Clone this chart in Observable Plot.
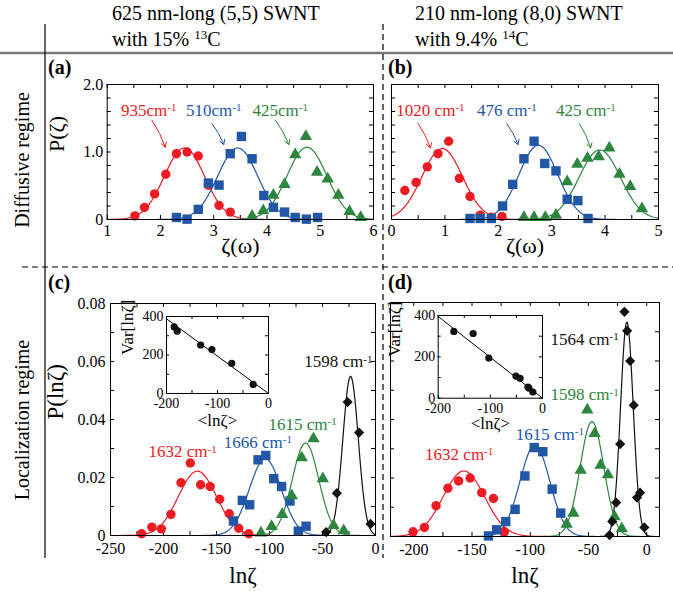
<!DOCTYPE html>
<html><head><meta charset="utf-8">
<script src="https://cdn.jsdelivr.net/npm/d3@7"></script>
<script src="https://cdn.jsdelivr.net/npm/@observablehq/plot@0.6"></script>
<style>
html,body{margin:0;padding:0;background:#fff;}
#fig{position:relative;width:673px;height:592px;overflow:hidden;font-family:'Liberation Serif','Times New Roman',serif;}
#fig svg{position:absolute;overflow:visible;}
#fig svg text{font-family:'Liberation Serif','Times New Roman',serif !important;}
</style></head><body><div id="fig"></div>
<script>
// ---------- Panel (a): diffusive regime, (5,5) SWNT ----------
const aRedX = [1.52,1.70,1.89,2.10,2.30,2.50,2.71,2.90,3.10,3.31];
const aRedY = [0.054,0.18,0.38,0.67,0.975,1.0,0.94,0.51,0.21,0.11];
const aBlueX = [2.30,2.50,2.71,2.90,3.10,3.31,3.52,3.72,3.94,4.12,4.33,4.53,4.74,4.95];
const aBlueY = [0.03,0.005,0.15,0.54,0.51,0.975,1.23,0.90,0.355,0.18,0.11,0.03,0.005,0.03];
const aGreenX = [3.72,3.93,4.12,4.33,4.53,4.73,4.94,5.14,5.34,5.55,5.76];
const aGreenY = [0.05,0.13,0.36,0.52,0.96,1.23,0.70,0.60,0.36,0.12,0.03];
const aFitMu = [2.45,3.45,4.75];
const aFitPeak = [1.06,1.06,1.07];
const aFitSigma = [0.376,0.376,0.373];
const aLabels = ["935cm-1","510cm-1","425cm-1"];
const aLabelX = [1.78,3.0,4.25];
const aLabelY = [1.62,1.62,1.62];
const aArrowX1 = [1.84,2.97,4.16], aArrowY1 = [1.47,1.42,1.47];
const aArrowX2 = [2.09,3.19,4.41], aArrowY2 = [1.07,1.11,1.11];
const aXTicks = [1,2,3,4,5,6];
const aYTicks = [0,1,2];

// ---------- Panel (b): diffusive regime, (8,0) SWNT ----------
const bRedX = [0.25,0.46,0.67,0.87,1.07,1.27,1.47,1.66,1.87,2.07];
const bRedY = [0.43,0.55,0.78,0.975,1.16,0.61,0.34,0.064,0.034,0.044];
const bBlueX = [1.47,1.66,1.87,2.08,2.27,2.48,2.67,2.87,3.08,3.29,3.49,3.68];
const bBlueY = [0.015,0.015,0.015,0.20,0.52,0.90,1.16,0.83,0.72,0.30,0.28,0.015];
const bGreenX = [2.48,2.67,2.88,3.08,3.29,3.48,3.67,3.88,4.08,4.27,4.47,4.69];
const bGreenY = [0.03,0.03,0.03,0.064,0.56,0.82,0.91,0.93,1.06,0.67,0.49,0.16];
const bFitMu = [0.95,2.75,3.9];
const bFitPeak = [1.05,1.10,1.03];
const bFitSigma = [0.38,0.363,0.387];
const bLabels = ["1020 cm-1","476 cm-1","425 cm-1"];
const bLabelX = [0.73,2.16,3.64];
const bLabelY = [1.62,1.62,1.62];
const bArrowX1 = [0.50,2.16,3.52], bArrowY1 = [1.42,1.42,1.42];
const bArrowX2 = [0.73,2.37,3.73], bArrowY2 = [1.06,1.11,1.06];
const bXTicks = [0,1,2,3,4,5];

// ---------- Panel (c): localization regime, (5,5) SWNT ----------
const cRedX = [-220.6,-211,-202,-193,-183.5,-174.7,-165,-156,-147,-138,-129,-119.6];
const cRedY = [0.0006,0.0029,0.0023,0.0073,0.0182,0.025,0.0175,0.0169,0.0125,0.0075,0.0025,0.0006];
const cBlueX = [-134,-125.6,-118.7,-110.8,-103.5,-96,-88.6,-80.7,-72.8,-65.5];
const cBlueY = [0.005,0.0121,0.0106,0.0261,0.0276,0.0196,0.0169,0.0119,0.0015,0.0032];
const cGreenX = [-108,-98,-88,-79,-69.6,-58.5,-49.7,-39.6,-30];
const cGreenY = [0.0009,0.0031,0.0073,0.0137,0.0268,0.0334,0.0196,0.0035,0.0017];
const cBlackX = [-46.5,-36.4,-26.3,-15.5,-4.7];
const cBlackY = [0.0012,0.0146,0.046,0.0355,0.004];
const cFitMu = [-168,-104,-66,-23.5];
const cFitPeak = [0.0222,0.0265,0.0319,0.0549];
const cFitSigma = [18,15,12.5,7.3];
const cLabels = ["1632 cm-1","1666 cm-1","1615 cm-1","1598 cm-1"];
const cLabelX = [-182,-111,-68.7,-35];
const cLabelY = [0.0288,0.0322,0.0383,0.0599];
const cXTicks = [-250,-200,-150,-100,-50,0];
const cYTicks = [0,0.02,0.04,0.06,0.08];
// inset (c)
const cInX = [-185,-179,-133,-111,-72,-30];
const cInY = [346,324,252,228,156,47];
const cInLineX = [-200,0];
const cInLineY = [388,0];

// ---------- Panel (d): localization regime, (8,0) SWNT ----------
const dRedX = [-200.6,-190.9,-180.9,-170.7,-161.5,-151.6,-141.6,-131.6,-122.2];
const dRedY = [0.0016,0.0031,0.0105,0.0165,0.019,0.020,0.015,0.013,0.0016];
const dBlueX = [-135.9,-128.8,-121,-113,-104.6,-96.6,-89.2,-81.2,-73.8];
const dBlueY = [0.0002,0.0023,0.0051,0.0093,0.0207,0.0304,0.029,0.0162,0.008];
const dGreenX = [-68.7,-63,-56.7,-51,-44.7,-39.6,-33.3,-27.6,-21.4];
const dGreenY = [0.0042,0.008,0.0227,0.0433,0.0352,0.0244,0.0211,0.0068,0.0027];
const dBlackX = [-31.9,-29.6,-26.2,-22.8,-19.1,-16.8,-14.2,-11.1,-8.3,-5.7,-2];
const dBlackY = [0.0005,0.0051,0.0116,0.0316,0.0768,0.0703,0.060,0.0449,0.0133,0.015,0.0031];
const dFitMu = [-157,-96,-47,-17];
const dFitPeak = [0.0224,0.0312,0.0393,0.0734];
const dFitSigma = [17.8,12.8,10.15,5.43];
const dLabels = ["1632 cm-1","1615 cm-1","1598 cm-1","1564 cm-1"];
const dLabelX = [-161,-83.2,-53.3,-53.3];
const dLabelY = [0.0281,0.035,0.0484,0.0675];
const dXTicks = [-200,-150,-100,-50,0];
// inset (d)
const dInX = [-170,-133,-103,-51,-43,-28,-26,-18.5];
const dInY = [323,313,194,107,96,54,49,30];
const dInLineX = [-200,0];
const dInLineY = [395,0];
const inXTicks = [-200,-100,0];
const inYTicks = [0,200,400];

// ---------- styling ----------
const SERIF = "Liberation Serif";
const RED = "#ed1c24", BLUE = "#2257a8", GREEN = "#2e8540", BLACK = "#111111";
const fig = document.getElementById("fig");

const pts = (xs, ys) => xs.map((x, i) => ({x, y: ys[i]}));
function fitCurve(mu, peak, sigma, domain, n = 300) {
  const [a, b] = domain, out = [];
  for (let i = 0; i <= n; i++) {
    const x = a + (b - a) * i / n;
    out.push({x, y: peak * Math.exp(-((x - mu) ** 2) / (2 * sigma * sigma))});
  }
  return out;
}
function innerTicks(xs, ys, w, h, len) {
  return [
    Plot.tickX(xs, {x: d => d, insetTop: h - len, stroke: "#000"}),
    Plot.tickX(xs, {x: d => d, insetBottom: h - len, stroke: "#000"}),
    Plot.tickY(ys, {y: d => d, insetRight: w - len, stroke: "#000"}),
    Plot.tickY(ys, {y: d => d, insetLeft: w - len, stroke: "#000"})
  ];
}
function finishText(svg) {
  svg.querySelectorAll("text").forEach(t => {
    t.setAttribute("font-family", SERIF);
    if (t.children.length === 0 && /cm-1$/.test(t.textContent)) {
      const s = t.textContent;
      t.textContent = s.slice(0, -2);
      const ts = document.createElementNS("http://www.w3.org/2000/svg", "tspan");
      ts.setAttribute("dy", "-0.42em");
      ts.setAttribute("font-size", "0.65em");
      ts.textContent = "-1";
      t.appendChild(ts);
    }
  });
}
function panel(cfg) {
  const [sx, sy, sw, sh] = cfg.box, [L, T, R, B] = cfg.frame;
  const iw = R - L, ih = B - T;
  const marks = [];
  if (cfg.fillFrame) marks.push(Plot.frame({fill: "white", stroke: null}));
  marks.push(...innerTicks(cfg.xMinor, cfg.yMinor, iw, ih, cfg.tickLen || 4));
  marks.push(Plot.axisX(cfg.xTicks, {tickSize: 0, tickPadding: cfg.xPad, tickFormat: cfg.xFmt, label: null, fontSize: cfg.fs, fontFamily: SERIF}));
  if (cfg.yTicks) marks.push(Plot.axisY(cfg.yTicks, {tickSize: 0, tickPadding: cfg.yPad, tickFormat: cfg.yFmt, label: null, fontSize: cfg.fs, fontFamily: SERIF}));
  marks.push(...cfg.marks);
  marks.push(Plot.frame({stroke: "#000", strokeWidth: 1}));
  if (cfg.xLabel) marks.push(Plot.text([cfg.xLabel], {frameAnchor: "bottom", dy: cfg.xLabelDy, text: d => d, fontSize: cfg.labelFs, fontFamily: SERIF}));
  if (cfg.yLabel) marks.push(Plot.text([cfg.yLabel], {frameAnchor: "left", dx: cfg.yLabelDx, rotate: -90, text: d => d, fontSize: cfg.labelFs, fontFamily: SERIF}));
  const svg = Plot.plot({
    width: sw, height: sh,
    marginLeft: L - sx, marginTop: T - sy, marginRight: sx + sw - R, marginBottom: sy + sh - B,
    x: {domain: cfg.xDomain},
    y: {domain: cfg.yDomain, axis: cfg.yTicks ? undefined : null},
    style: {fontFamily: SERIF, fontSize: cfg.fs + "px", background: "transparent", color: "#000", overflow: "visible"},
    marks
  });
  finishText(svg);
  svg.style.left = sx + "px";
  svg.style.top = sy + "px";
  fig.appendChild(svg);
}
const series = (xs, ys, symbol, color, r) => Plot.dot(pts(xs, ys), {x: "x", y: "y", symbol, fill: color, stroke: "none", r});
const fitLines = (mus, peaks, sigmas, colors, domain) =>
  mus.map((m, i) => Plot.line(fitCurve(m, peaks[i], sigmas[i], domain), {x: "x", y: "y", stroke: colors[i], strokeWidth: 1.2}));
const labelMarks = (labels, xs, ys, colors) =>
  Plot.text(labels.map((t, i) => ({t, x: xs[i], y: ys[i], c: colors[i]})), {x: "x", y: "y", text: "t", fill: "c", fontSize: 17, fontFamily: SERIF});
const arrowMarks = (x1, y1, x2, y2, colors) =>
  Plot.arrow(x1.map((v, i) => ({x1: v, y1: y1[i], x2: x2[i], y2: y2[i], c: colors[i]})),
    {x1: "x1", y1: "y1", x2: "x2", y2: "y2", stroke: "c", bend: 8, headLength: 8, strokeWidth: 1});

// ---------- decorations (background) ----------
const deco = d3.select(fig).append("svg").attr("width", 673).attr("height", 592)
  .style("left", "0px").style("top", "0px").attr("font-family", SERIF);
deco.append("line").attr("x1", 0).attr("x2", 673).attr("y1", 53).attr("y2", 53).attr("stroke", "#7a7a7a").attr("stroke-width", 2.5);
deco.append("line").attr("x1", 45).attr("x2", 45).attr("y1", 24).attr("y2", 558).attr("stroke", "#000").attr("stroke-width", 1.2);
deco.append("line").attr("x1", 383).attr("x2", 383).attr("y1", 24).attr("y2", 558).attr("stroke", "#000").attr("stroke-width", 1.2).attr("stroke-dasharray", "6,4");
deco.append("line").attr("x1", 22).attr("x2", 673).attr("y1", 267).attr("y2", 267).attr("stroke", "#000").attr("stroke-width", 1.2).attr("stroke-dasharray", "6,4");
const headers = [
  {x: 112, l1: "625 nm-long (5,5) SWNT", pre: "with 15% ", iso: "13", post: "C"},
  {x: 415, l1: "210 nm-long (8,0) SWNT", pre: "with 9.4% ", iso: "14", post: "C"}
];
headers.forEach(h => {
  deco.append("text").attr("x", h.x).attr("y", 20).attr("font-size", 20).text(h.l1);
  const t = deco.append("text").attr("x", h.x).attr("y", 46).attr("font-size", 20);
  t.append("tspan").text(h.pre);
  t.append("tspan").attr("font-size", 13).attr("dy", -7).text(h.iso);
  t.append("tspan").attr("dy", 7).text(h.post);
});
deco.append("text").attr("transform", "translate(22,160) rotate(-90)").attr("text-anchor", "middle")
  .attr("dominant-baseline", "central").attr("font-size", 20).text("Diffusive regime");
deco.append("text").attr("transform", "translate(22,420) rotate(-90)").attr("text-anchor", "middle")
  .attr("dominant-baseline", "central").attr("font-size", 20).text("Localization regime");
[["(a)", 48, 74], ["(b)", 388, 74], ["(c)", 48, 289], ["(d)", 388, 289]].forEach(([s, x, y]) =>
  deco.append("text").attr("x", x).attr("y", y).attr("font-size", 20).attr("font-weight", "bold").text(s));

// ---------- panels ----------
const fmt1 = d => d === 0 ? "0" : d.toFixed(1);
const fmt2 = d => d === 0 ? "0" : d.toFixed(2);
const fmtInt = d => String(d);
const diffYMinor = [0,0.2,0.4,0.6,0.8,1.0,1.2,1.4,1.6,1.8,2.0];
const locYMinor = [0,0.01,0.02,0.03,0.04,0.05,0.06,0.07,0.08];

panel({
  box: [48, 62, 330, 205], frame: [106.7, 84, 373, 219],
  xDomain: [1, 6], yDomain: [0, 2],
  xTicks: aXTicks, yTicks: aYTicks, xFmt: fmtInt, yFmt: fmt1,
  xMinor: [1,1.5,2,2.5,3,3.5,4,4.5,5,5.5,6], yMinor: diffYMinor,
  fs: 16, xPad: 5, yPad: 4, labelFs: 22,
  xLabel: "ζ(ω)", xLabelDy: 33, yLabel: "P(ζ)", yLabelDx: -50,
  marks: [
    ...fitLines(aFitMu, aFitPeak, aFitSigma, [RED, BLUE, GREEN], [1, 6]),
    series(aRedX, aRedY, "circle", RED, 4.7),
    series(aBlueX, aBlueY, "square", BLUE, 5.3),
    series(aGreenX, aGreenY, "triangle", GREEN, 4.6),
    labelMarks(aLabels, aLabelX, aLabelY, [RED, BLUE, GREEN]),
    arrowMarks(aArrowX1, aArrowY1, aArrowX2, aArrowY2, [RED, BLUE, GREEN])
  ]
});

panel({
  box: [386, 62, 285, 205], frame: [391, 84, 658, 219],
  xDomain: [0, 5], yDomain: [0, 2],
  xTicks: bXTicks, yTicks: null, xFmt: fmtInt,
  xMinor: [0,0.5,1,1.5,2,2.5,3,3.5,4,4.5,5], yMinor: diffYMinor,
  fs: 16, xPad: 5, labelFs: 22,
  xLabel: "ζ(ω)", xLabelDy: 33,
  marks: [
    ...fitLines(bFitMu, bFitPeak, bFitSigma, [RED, BLUE, GREEN], [0, 5]),
    series(bRedX, bRedY, "circle", RED, 4.7),
    series(bBlueX, bBlueY, "square", BLUE, 5.3),
    series(bGreenX, bGreenY, "triangle", GREEN, 4.6),
    labelMarks(bLabels, bLabelX, bLabelY, [RED, BLUE, GREEN]),
    arrowMarks(bArrowX1, bArrowY1, bArrowX2, bArrowY2, [RED, BLUE, GREEN])
  ]
});

panel({
  box: [46, 285, 334, 307], frame: [110, 303, 375, 535],
  xDomain: [-250, 0], yDomain: [0, 0.08],
  xTicks: cXTicks, yTicks: cYTicks, xFmt: fmtInt, yFmt: fmt2,
  xMinor: [-250,-225,-200,-175,-150,-125,-100,-75,-50,-25,0], yMinor: locYMinor,
  fs: 16, xPad: 7, yPad: 5, labelFs: 23,
  xLabel: "lnζ", xLabelDy: 47, yLabel: "P(lnζ)", yLabelDx: -55,
  marks: [
    ...fitLines(cFitMu, cFitPeak, cFitSigma, [RED, BLUE, GREEN, BLACK], [-250, 0]),
    series(cRedX, cRedY, "circle", RED, 4.7),
    series(cBlueX, cBlueY, "square", BLUE, 5.3),
    series(cGreenX, cGreenY, "triangle", GREEN, 4.6),
    series(cBlackX, cBlackY, "diamond2", BLACK, 4.6),
    labelMarks(cLabels, cLabelX, cLabelY, [RED, BLUE, GREEN, BLACK])
  ]
});

panel({
  box: [386, 285, 284, 307], frame: [390, 302, 659, 536],
  xDomain: [-220, 11], yDomain: [0, 0.08],
  xTicks: dXTicks, yTicks: null, xFmt: fmtInt,
  xMinor: [-200,-175,-150,-125,-100,-75,-50,-25,0], yMinor: locYMinor,
  fs: 16, xPad: 7, labelFs: 23,
  xLabel: "lnζ", xLabelDy: 46,
  marks: [
    ...fitLines(dFitMu, dFitPeak, dFitSigma, [RED, BLUE, GREEN, BLACK], [-220, 11]),
    series(dRedX, dRedY, "circle", RED, 4.7),
    series(dBlueX, dBlueY, "square", BLUE, 5.3),
    series(dGreenX, dGreenY, "triangle", GREEN, 4.6),
    series(dBlackX, dBlackY, "diamond2", BLACK, 4.6),
    labelMarks(dLabels, dLabelX, dLabelY, [RED, BLUE, GREEN, BLACK])
  ]
});

// insets
panel({
  box: [115, 308, 160, 125], frame: [166, 316, 268, 393], fillFrame: true,
  xDomain: [-200, 0], yDomain: [0, 400],
  xTicks: inXTicks, yTicks: inYTicks, xFmt: fmtInt, yFmt: fmtInt,
  xMinor: [-200,-150,-100,-50,0], yMinor: [0,100,200,300,400], tickLen: 3,
  fs: 14, xPad: 5, yPad: 3, labelFs: 17,
  xLabel: "<lnζ>", xLabelDy: 32, yLabel: "Var[lnζ]", yLabelDx: -39,
  marks: [
    Plot.line(pts(cInLineX, cInLineY), {x: "x", y: "y", stroke: "#000", strokeWidth: 1}),
    series(cInX, cInY, "circle", BLACK, 3.6)
  ]
});
panel({
  box: [386, 308, 170, 125], frame: [437.7, 315, 542, 397.7], fillFrame: true,
  xDomain: [-200, 0], yDomain: [0, 400],
  xTicks: inXTicks, yTicks: inYTicks, xFmt: fmtInt, yFmt: fmtInt,
  xMinor: [-200,-150,-100,-50,0], yMinor: [0,100,200,300,400], tickLen: 3,
  fs: 14, xPad: 5, yPad: 3, labelFs: 17,
  xLabel: "<lnζ>", xLabelDy: 31, yLabel: "Var[lnζ]", yLabelDx: -44,
  marks: [
    Plot.line(pts(dInLineX, dInLineY), {x: "x", y: "y", stroke: "#000", strokeWidth: 1}),
    series(dInX, dInY, "circle", BLACK, 3.6)
  ]
});
</script></body></html>
